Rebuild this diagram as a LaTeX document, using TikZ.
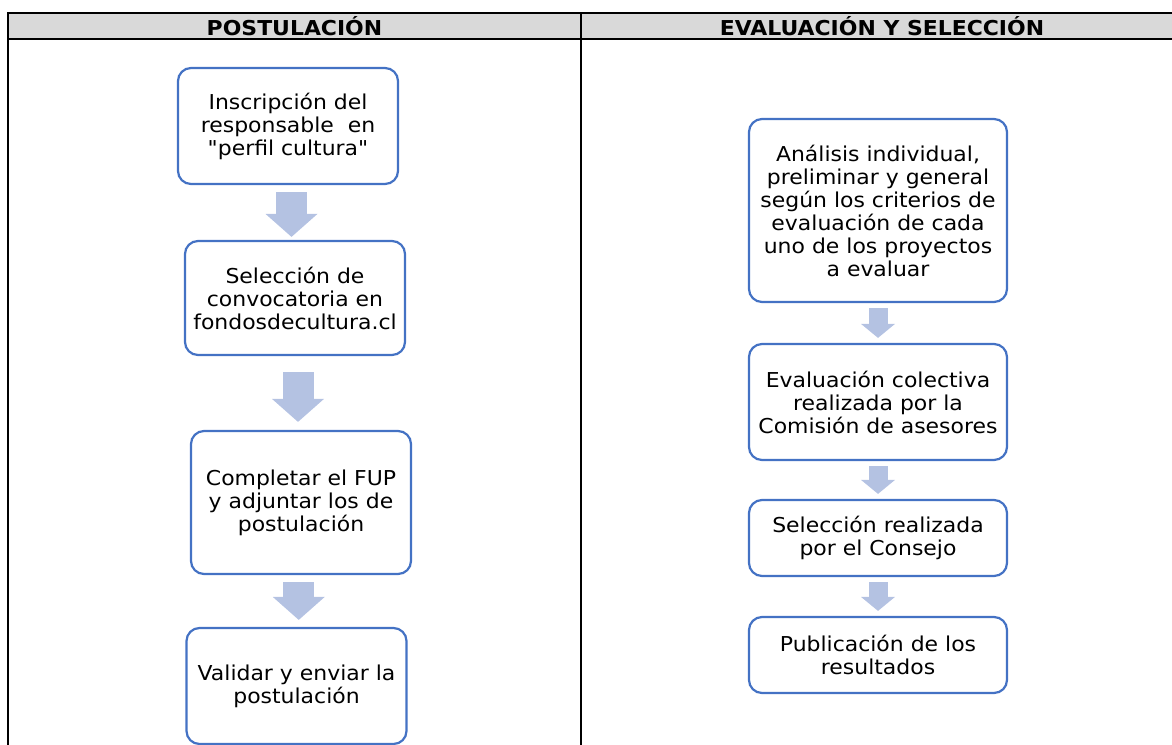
\documentclass[tikz,border=0pt]{standalone}
\usepackage{fontspec}
\setmainfont{DejaVu Sans}[Ligatures=TeXOff, FakeStretch=1.07]
\usetikzlibrary{arrows.meta,calc}
\definecolor{boxblue}{RGB}{68,114,196}
\definecolor{arrowblue}{RGB}{180,194,226}
\definecolor{headgray}{RGB}{217,217,217}

\begin{document}
\begin{tikzpicture}[x=1pt, y=-1pt,
    stepbox/.style={rectangle, rounded corners=13pt, draw=boxblue, line width=2.2pt, fill=white, align=center, inner sep=0pt, font=\fontsize{20.5}{23}\selectfont},
    leftbox/.style={stepbox, minimum width=220pt},
    rightbox/.style={stepbox, minimum width=258pt},
    bigarrow/.style={arrowblue, line width=31pt, -{Triangle[width=52pt, length=23pt, line width=0pt]}},
    smallarrow/.style={arrowblue, line width=19pt, -{Triangle[width=34pt, length=14pt, line width=0pt]}},
    head/.style={font=\fontsize{20.5}{23}\selectfont\bfseries},
    rule/.style={line width=2pt}
]
\clip (0,0) rectangle (1172,744);

% Table
\fill[headgray] (8,13) rectangle (1200,39);
\draw[rule] (1200,13) -- (8,13) -- (8,760);
\draw[rule] (8,39) -- (1200,39);
\draw[rule] (581,13) -- (581,760);

% Headers
\node[head] (hpost) at (294.5,26.5) {POSTULACIÓN};
\node[head] (heval) at (882,26.5) {EVALUACIÓN Y SELECCIÓN};

% Postulacion steps
\node[leftbox, minimum height=116pt] (ins) at (288,126) {Inscripción del\\responsable\ \ en\\"perfil cultura"};
\node[leftbox, minimum height=114pt] (sel) at (295,298) {Selección de\\convocatoria en\\fondosdecultura.cl};
\node[leftbox, minimum height=143pt] (comp) at (301,502.5) {Completar el FUP\\y adjuntar los de\\postulación};
\node[leftbox, minimum height=116pt] (val) at (296.5,686) {Validar y enviar la\\postulación};

% Evaluacion steps
\node[rightbox, minimum height=183pt] (ana) at (878,210.5) {Análisis individual,\\preliminar y general\\según los criterios de\\evaluación de cada\\uno de los proyectos\\a evaluar};
\node[rightbox, minimum height=116pt] (eva) at (878,402) {Evaluación colectiva\\realizada por la\\Comisión de asesores};
\node[rightbox, minimum height=76pt] (selc) at (878,538) {Selección realizada\\por el Consejo};
\node[rightbox, minimum height=76pt] (pub) at (878,655) {Publicación de los\\resultados};

% Block arrows
\coordinate (m1) at ($(ins.south)!.5!(sel.north)$);
\coordinate (m2) at ($(sel.south)!.5!(comp.north)$);
\coordinate (m3) at ($(comp.south)!.5!(val.north)$);
\draw[bigarrow, shorten <=7pt, shorten >=3pt] (ins.south -| m1) -- (sel.north -| m1);
\draw[bigarrow, shorten <=16pt, shorten >=8pt] (sel.south -| m2) -- (comp.north -| m2);
\draw[bigarrow, shorten <=7pt, shorten >=7pt] (comp.south -| m3) -- (val.north -| m3);

\draw[smallarrow, shorten <=5pt, shorten >=5pt] (ana) -- (eva);
\draw[smallarrow, shorten <=5pt, shorten >=5pt] (eva) -- (selc);
\draw[smallarrow, shorten <=5pt, shorten >=5pt] (selc) -- (pub);

\end{tikzpicture}
\end{document}
